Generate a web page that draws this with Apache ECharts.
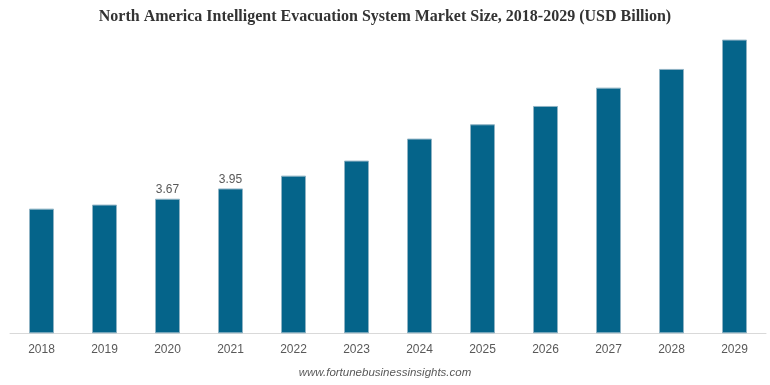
<!DOCTYPE html>
<html><head><meta charset="utf-8">
<script src="https://cdn.jsdelivr.net/npm/echarts@6/dist/echarts.min.js"></script>
<style>html,body{margin:0;padding:0;background:#fff}#c{width:770px;height:385px}</style>
</head><body><div id="c"></div>
<script>
const categories = ['2018','2019','2020','2021','2022','2023','2024','2025','2026','2027','2028','2029'];
const values = [3.40, 3.51, 3.67, 3.95, 4.30, 4.71, 5.31, 5.70, 6.20, 6.70, 7.21, 8.01];
const labeledYears = ['2020','2021'];

const chart = echarts.init(document.getElementById('c'), null, {renderer:'canvas'});
chart.setOption({
  animation:false,
  title:{
    text:'North America Intelligent Evacuation System Market Size, 2018-2029 (USD Billion)',
    left:'center', top:4, padding:[5,0,5,12],
    textStyle:{fontFamily:'Liberation Serif', fontWeight:'bold', fontSize:16, color:'#333'}
  },
  graphic:[{
    type:'text', left:'center', top:367,
    style:{text:'www.fortunebusinessinsights.com', font:'italic 11.5px "Liberation Sans"', fill:'#595959'}
  }],
  grid:{left:10, right:4, top:3.3, bottom:51.7, containLabel:false},
  xAxis:{
    type:'category', data:categories,
    axisLine:{lineStyle:{color:'#d9d9d9', width:1}},
    axisTick:{show:false},
    axisLabel:{color:'#595959', fontSize:12, fontFamily:'Liberation Sans', margin:10}
  },
  yAxis:{type:'value', min:0, max:9, show:false, splitLine:{show:false}},
  series:[{
    type:'bar', barWidth:25,
    data: values.map((v,i)=>({value:v, label:{show: labeledYears.includes(categories[i])}})),
    itemStyle:{color:'#05648a', borderColor:'#8fb3c4', borderWidth:1},
    label:{position:'top', distance:3, color:'#595959', fontSize:12, fontFamily:'Liberation Sans', formatter:p=>p.value.toFixed(2)}
  }]
});
</script></body></html>
